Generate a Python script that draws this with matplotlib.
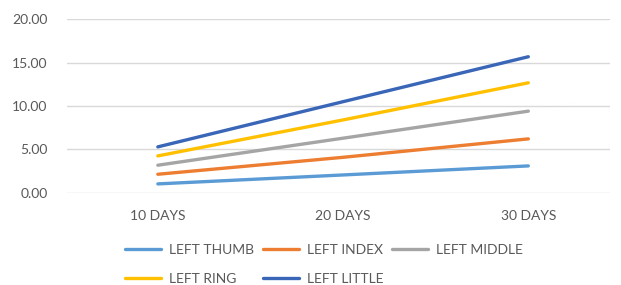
import matplotlib
matplotlib.use("Agg")
import matplotlib.pyplot as plt

categories = ["10 DAYS", "20 DAYS", "30 DAYS"]
series_names = ["LEFT THUMB", "LEFT INDEX", "LEFT MIDDLE", "LEFT RING", "LEFT LITTLE"]
left_thumb = [1.04, 2.07, 3.11]
left_index = [2.15, 4.10, 6.22]
left_middle = [3.19, 6.30, 9.41]
left_ring = [4.26, 8.40, 12.67]
left_little = [5.30, 10.50, 15.67]
yticks = [0, 5, 10, 15, 20]

colors = ["#5B9BD5", "#ED7D31", "#A5A5A5", "#FFC000", "#3A66B8"]
values = [left_thumb, left_index, left_middle, left_ring, left_little]

plt.rcParams['font.family'] = ['Lato', 'DejaVu Sans']
text_color = "#595959"

fig = plt.figure(figsize=(6.21, 2.85), dpi=100)
ax = fig.add_axes([0.108, 0.323, 0.874, 0.61])

x = list(range(len(categories)))
handles = []
for name, vals, c in zip(series_names, values, colors):
    h, = ax.plot(x, vals, color=c, lw=2.4, solid_capstyle='round', label=name)
    handles.append(h)

ax.set_ylim(0, 20)
ax.set_yticks(yticks)
ax.set_yticklabels([f"{v:.2f}" for v in yticks])
ax.set_xlim(-0.49, 2.44)
ax.set_xticks(x)
ax.set_xticklabels(categories)
ax.grid(axis='y', color="#D9D9D9", lw=1)
ax.set_axisbelow(True)
for s in ax.spines.values():
    s.set_visible(False)
ax.tick_params(length=0, labelsize=10, colors=text_color)
ax.tick_params(axis='x', pad=12)
ax.tick_params(axis='y', pad=14)

order = [0, 3, 1, 4, 2]
leg = fig.legend([handles[i] for i in order], [series_names[i] for i in order],
                 ncol=3, loc='upper left', bbox_to_anchor=(0.201, 0.143),
                 frameon=False, fontsize=10, handlelength=2.6,
                 columnspacing=0.6, handletextpad=0.6, labelspacing=1.2,
                 borderaxespad=0, borderpad=0)
for t in leg.get_texts():
    t.set_color(text_color)

fig.savefig("out.png", dpi=100)
